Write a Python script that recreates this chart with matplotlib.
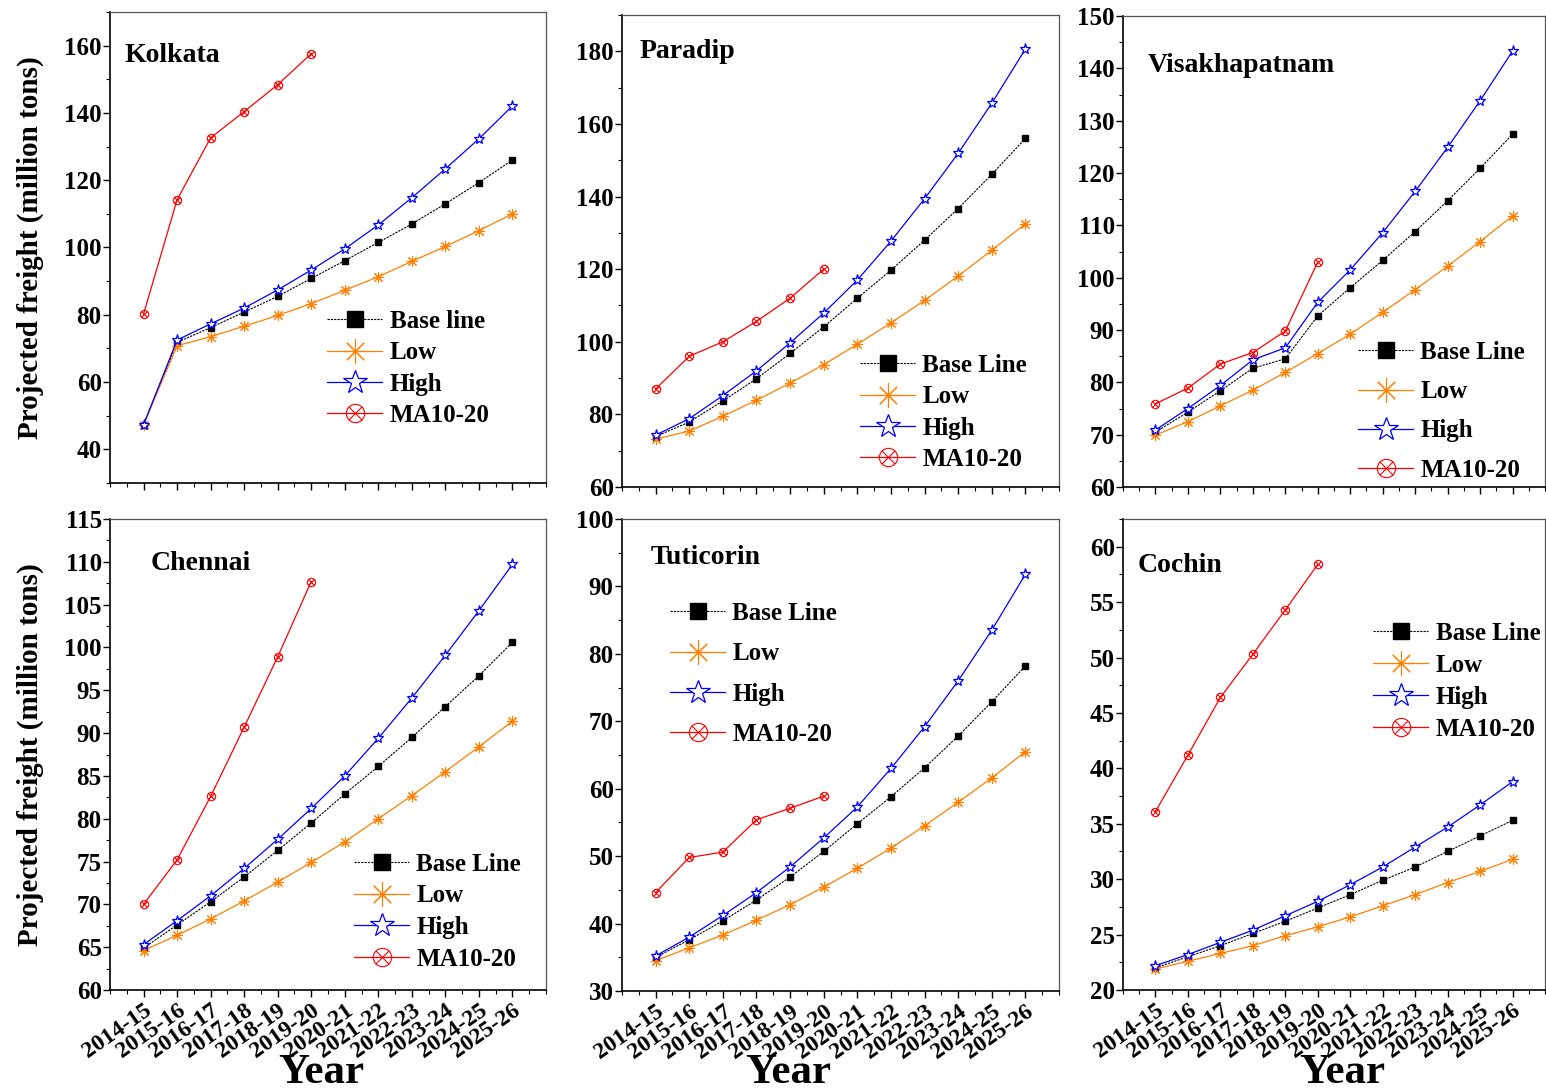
import matplotlib
matplotlib.use('Agg')
import matplotlib.pyplot as plt
from matplotlib.path import Path
import numpy as np

plt.rcParams['font.family'] = 'serif'
plt.rcParams['font.serif'] = ['Liberation Serif', 'DejaVu Serif']
plt.rcParams['font.weight'] = 'bold'
plt.rcParams['axes.unicode_minus'] = False

# === data ===
years = ['2014-15', '2015-16', '2016-17', '2017-18', '2018-19', '2019-20',
         '2020-21', '2021-22', '2022-23', '2023-24', '2024-25', '2025-26']

kolkata_base = [47.3, 71.8, 76.2, 80.8, 85.5, 90.8, 96.1, 101.5, 107.0, 113.0, 119.3, 126.0]
kolkata_low = [47.3, 70.8, 73.5, 76.6, 79.8, 83.3, 87.3, 91.3, 95.9, 100.3, 105.0, 110.0]
kolkata_high = [47.3, 72.5, 77.3, 82.0, 87.4, 93.3, 99.6, 106.7, 114.8, 123.4, 132.3, 142.1]
kolkata_ma = [80.2, 114.2, 132.6, 140.4, 148.4, 157.6]

paradip_base = [73.9, 77.9, 83.7, 89.8, 96.8, 104.1, 112.0, 119.7, 128.0, 136.7, 146.1, 156.0]
paradip_low = [73.2, 75.4, 79.5, 83.9, 88.6, 93.7, 99.3, 105.2, 111.4, 118.1, 125.2, 132.5]
paradip_high = [74.3, 78.8, 85.2, 92.0, 99.7, 107.9, 117.0, 127.7, 139.4, 151.9, 165.7, 180.6]
paradip_ma = [87.0, 96.0, 100.0, 105.6, 112.0, 120.0]

visakh_base = [70.5, 74.3, 78.4, 82.7, 84.5, 92.7, 98.1, 103.3, 108.8, 114.7, 120.9, 127.4]
visakh_low = [69.9, 72.5, 75.5, 78.5, 81.9, 85.5, 89.2, 93.4, 97.7, 102.2, 106.9, 111.8]
visakh_high = [70.9, 75.0, 79.4, 84.3, 86.6, 95.3, 101.5, 108.6, 116.5, 124.9, 133.8, 143.3]
visakh_ma = [75.9, 78.9, 83.5, 85.7, 89.8, 103.0]

chennai_base = [64.9, 67.6, 70.3, 73.2, 76.3, 79.5, 82.9, 86.1, 89.5, 93.1, 96.7, 100.6]
chennai_low = [64.6, 66.4, 68.3, 70.4, 72.6, 74.9, 77.3, 80.0, 82.7, 85.5, 88.4, 91.4]
chennai_high = [65.3, 68.1, 71.0, 74.2, 77.6, 81.2, 85.0, 89.4, 94.1, 99.1, 104.3, 109.7]
chennai_ma = [70.0, 75.2, 82.6, 90.7, 98.9, 107.7]

tuticorin_base = [35.0, 37.6, 40.4, 43.5, 46.9, 50.7, 54.8, 58.8, 63.1, 67.8, 72.9, 78.2]
tuticorin_low = [34.5, 36.4, 38.3, 40.5, 42.8, 45.4, 48.2, 51.2, 54.5, 58.0, 61.6, 65.5]
tuticorin_high = [35.2, 38.0, 41.2, 44.6, 48.4, 52.7, 57.3, 63.0, 69.2, 76.0, 83.5, 91.8]
tuticorin_ma = [44.6, 49.8, 50.6, 55.4, 57.1, 58.9]

cochin_base = [22.0, 23.0, 24.0, 25.1, 26.2, 27.4, 28.6, 29.9, 31.1, 32.5, 33.9, 35.3]
cochin_low = [21.9, 22.6, 23.3, 24.0, 24.9, 25.7, 26.6, 27.6, 28.6, 29.7, 30.7, 31.8]
cochin_high = [22.2, 23.2, 24.3, 25.4, 26.7, 28.0, 29.5, 31.1, 32.9, 34.7, 36.7, 38.8]
cochin_ma = [36.1, 41.2, 46.4, 50.3, 54.3, 58.4]

ports = ['Kolkata', 'Paradip', 'Visakhapatnam', 'Chennai', 'Tuticorin', 'Cochin']
base_labels = ['Base line', 'Base Line', 'Base Line', 'Base Line', 'Base Line', 'Base Line']

# === layout (pixels) ===
W, H = 1546, 1090
panels = [
    # series, box(l,t,r,b), ylim, major, minor, title xy, legend xy, labelspacing
    (kolkata_base, kolkata_low, kolkata_high, kolkata_ma, (110, 12, 546, 483), (30, 170), 20, 10, (125, 55), (327, 310), 0.33),
    (paradip_base, paradip_low, paradip_high, paradip_ma, (622, 15, 1059, 487), (60, 190), 20, 10, (640, 52), (860, 354), 0.33),
    (visakh_base, visakh_low, visakh_high, visakh_ma, (1123, 16, 1545, 487), (60, 150), 10, 5, (1148, 65), (1358, 341), 0.65),
    (chennai_base, chennai_low, chennai_high, chennai_ma, (110, 519, 546, 990), (60, 115), 5, 2.5, (151, 564), (354, 853), 0.34),
    (tuticorin_base, tuticorin_low, tuticorin_high, tuticorin_ma, (622, 519, 1059, 991), (30, 100), 10, 5, (651, 557), (670, 602), 0.69),
    (cochin_base, cochin_low, cochin_high, cochin_ma, (1123, 519, 1545, 990), (20, 62.5), 5, 2.5, (1138, 565), (1373, 622), 0.36),
]
year_x = {3: 321, 4: 788, 5: 1342}

# circle with an x inside
d = 0.707
circ_x = Path.make_compound_path(
    Path.unit_circle(),
    Path([(-d, -d), (d, d)], [Path.MOVETO, Path.LINETO]),
    Path([(-d, d), (d, -d)], [Path.MOVETO, Path.LINETO]),
)

fig = plt.figure(figsize=(W / 100, H / 100), dpi=100)
x = np.arange(len(years))

for i, (base, low, high, ma, box, ylim, major, minor, tpos, lpos, lsp) in enumerate(panels):
    l, t, r, b = box
    ax = fig.add_axes([l / W, 1 - b / H, (r - l) / W, (b - t) / H])

    ax.plot(x, base, color='black', linestyle=(0, (2, 1)), linewidth=0.8,
            marker='s', markersize=5, label=base_labels[i])
    ax.plot(x, low, color='#FF8000', linewidth=0.9,
            marker=(8, 2, 0), markersize=8, markeredgewidth=0.8, label='Low')
    ax.plot(x, high, color='#0000FF', linewidth=0.9,
            marker='*', markersize=8, markerfacecolor='white', markeredgewidth=0.9, label='High')
    ax.plot(x[:len(ma)], ma, color='#FF0000', linewidth=0.9,
            marker=circ_x, markersize=6, markerfacecolor='none', markeredgewidth=0.8, label='MA10-20')

    ax.set_xlim(-1, 12)
    ax.set_ylim(*ylim)
    ax.set_xticks(x)
    ax.set_xticks(np.arange(-1, 12.01, 0.5), minor=True)
    if i >= 3:
        ax.set_xticklabels(years, rotation=35, ha='right', va='top',
                           rotation_mode='anchor', fontsize=17, fontweight='bold')
    else:
        ax.set_xticklabels([])
    first = major * np.ceil(ylim[0] / major)
    ax.set_yticks(np.arange(first, ylim[1] + 0.01, major))
    ax.set_yticks(np.arange(ylim[0], ylim[1] + 0.01, minor), minor=True)
    ax.tick_params(axis='y', which='major', direction='out', length=5, width=1,
                   labelsize=18, pad=1)
    ax.tick_params(axis='y', which='minor', direction='out', length=3, width=0.8)
    ax.tick_params(axis='x', which='major', direction='out', length=5, width=1, pad=2)
    ax.tick_params(axis='x', which='minor', direction='out', length=3, width=0.8)
    for lab in ax.get_yticklabels():
        lab.set_fontweight('bold')

    ax.spines['left'].set_linewidth(1.2)
    ax.spines['bottom'].set_linewidth(1.2)
    ax.spines['top'].set_color('#555555')
    ax.spines['right'].set_color('#555555')
    ax.spines['top'].set_linewidth(0.9)
    ax.spines['right'].set_linewidth(0.9)

    fig.text(tpos[0] / W, 1 - tpos[1] / H, ports[i], fontsize=20, fontweight='bold',
             ha='left', va='center')

    ax.legend(loc='upper left', bbox_to_anchor=(lpos[0] / W, 1 - lpos[1] / H),
              bbox_transform=fig.transFigure, frameon=False,
              markerscale=2.2, handlelength=2.2, handletextpad=0.3,
              labelspacing=lsp, borderpad=0, borderaxespad=0,
              prop={'weight': 'bold', 'size': 18})

    if i % 3 == 0:
        fig.text(30 / W, 1 - ((t + b) / 2) / H, 'Projected freight (million tons)',
                 rotation=90, fontsize=21, fontweight='bold', ha='center', va='center')
    if i >= 3:
        fig.text(year_x[i] / W, 1 - 1073 / H, 'Year', fontsize=31,
                 fontweight='bold', ha='center', va='center')

plt.savefig('out.png', dpi=100)
plt.close()
